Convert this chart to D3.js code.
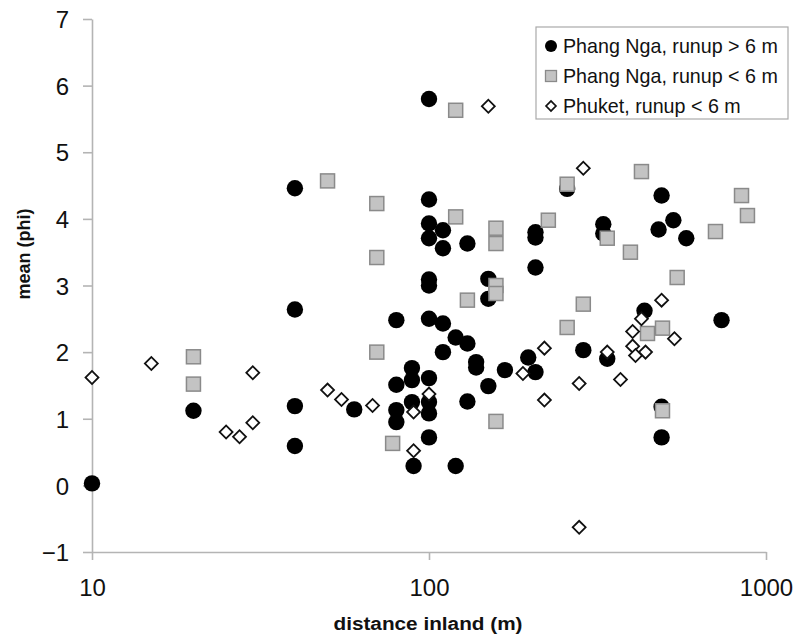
<!DOCTYPE html>
<html>
<head>
<meta charset="utf-8">
<script src="https://cdn.jsdelivr.net/npm/d3@7"></script>
<style>
  body { margin: 0; background: #fff; }
  svg { font-family: "Liberation Sans", Arial, sans-serif; }
</style>
</head>
<body>
<div id="chart"></div>
<script>
'use strict';

// Phang Nga, runup > 6 m  [distance inland (m), mean (phi)]
var phangNgaHigh = [
  [10, 0.03], [20, 1.12],
  [40, 4.46], [40, 2.64], [40, 1.19], [40, 0.59],
  [60, 1.14],
  [80, 2.48], [80, 1.51], [80, 1.13], [80, 0.95],
  [89, 1.76], [89, 1.58], [89, 1.25], [90, 0.29],
  [100, 5.8], [100, 4.29], [100, 3.93], [100, 3.71], [100, 3.09], [100, 3.0],
  [100, 2.5], [100, 1.61], [100, 1.25], [100, 1.08], [100, 0.72],
  [110, 3.83], [110, 3.56], [110, 2.43], [110, 2.0],
  [120, 2.22], [120, 0.29],
  [130, 3.63], [130, 2.13], [130, 1.26],
  [138, 1.85], [138, 1.77],
  [150, 3.1], [150, 2.8], [150, 1.49],
  [168, 1.73], [197, 1.92],
  [207, 3.8], [207, 3.72], [207, 3.27], [207, 1.7],
  [257, 4.45], [287, 2.03],
  [329, 3.92], [329, 3.78], [338, 1.9],
  [436, 2.62], [480, 3.84],
  [490, 4.35], [490, 1.18], [490, 0.72],
  [531, 3.98], [580, 3.71], [738, 2.48]
];

// Phang Nga, runup < 6 m
var phangNgaLow = [
  [20, 1.93], [20, 1.52],
  [50, 4.57],
  [70, 4.23], [70, 3.42], [70, 2.0],
  [78, 0.63],
  [120, 5.63], [120, 4.03],
  [130, 2.78],
  [158, 3.86], [158, 3.63], [158, 3.0], [158, 2.88], [158, 0.96],
  [226, 3.98], [257, 4.52], [257, 2.37], [287, 2.72],
  [338, 3.71], [396, 3.5], [427, 4.71], [445, 2.28],
  [493, 2.36], [493, 1.12], [545, 3.12],
  [708, 3.81], [846, 4.35], [881, 4.05]
];

// Phuket, runup < 6 m
var phuketLow = [
  [10, 1.62], [15, 1.83], [25, 0.8], [27.4, 0.73],
  [30, 1.69], [30, 0.94],
  [50, 1.43], [55, 1.29], [68, 1.2],
  [90, 1.1], [90, 0.52], [100, 1.37],
  [150, 5.69], [190, 1.68],
  [220, 2.06], [220, 1.28],
  [279, 1.53], [279, -0.63], [287, 4.76],
  [338, 2.0], [370, 1.59],
  [402, 2.31], [402, 2.09], [410, 1.95], [427, 2.5], [439, 2.0],
  [490, 2.78], [535, 2.2]
];

var xTicks = [10, 100, 1000];
var yTicks = [-1, 0, 1, 2, 3, 4, 5, 6, 7];
var legendLabels = ["Phang Nga, runup > 6 m", "Phang Nga, runup < 6 m", "Phuket, runup < 6 m"];

var width = 794, height = 636;
var axisColor = "#b4b4b4";

var svg = d3.select("#chart").append("svg")
  .attr("width", width).attr("height", height);

var x = d3.scaleLog().domain([10, 1000]).range([92, 766]);
var y = d3.scaleLinear().domain([-1, 7]).range([552, 19]);

//axes
var xAxis = svg.append("g")
  .attr("transform", "translate(0," + y(-1) + ")")
  .call(d3.axisBottom(x).tickValues(xTicks).tickFormat(d3.format("d")).tickSizeInner(8).tickSizeOuter(0).tickPadding(13));

var yAxis = svg.append("g")
  .attr("transform", "translate(" + x(10) + ",0)")
  .call(d3.axisLeft(y).tickValues(yTicks).tickSizeInner(9).tickSizeOuter(0).tickPadding(14));

[xAxis, yAxis].forEach(function(a){
  a.select(".domain").attr("stroke", axisColor).attr("stroke-width", 1.6);
  a.selectAll(".tick line").attr("stroke", axisColor).attr("stroke-width", 1.6);
  a.selectAll(".tick text").attr("fill", "#111").style("font-size", "24px").style("font-family", "Liberation Sans, Arial, sans-serif");
});
xAxis.selectAll(".tick text").attr("dy", "0.95em");
yAxis.selectAll(".tick text").attr("dy", "0.36em");

//axis titles
svg.append("text")
  .attr("x", 428).attr("y", 630)
  .attr("text-anchor", "middle")
  .style("font-size", "18px").style("font-weight", "bold").attr("fill", "#111")
  .attr("textLength", 189).attr("lengthAdjust", "spacingAndGlyphs")
  .text("distance inland (m)");

svg.append("text")
  .attr("transform", "translate(30,254) rotate(-90)")
  .attr("text-anchor", "middle")
  .style("font-size", "18px").style("font-weight", "bold").attr("fill", "#111")
  .text("mean (phi)");

//markers
var diamond = d3.symbol().type(d3.symbolSquare).size(84);

svg.append("g").selectAll("circle").data(phangNgaHigh).enter().append("circle")
  .attr("cx", function(d){ return x(d[0]); })
  .attr("cy", function(d){ return y(d[1]); })
  .attr("r", 8.2)
  .attr("fill", "#000");

svg.append("g").selectAll("rect").data(phangNgaLow).enter().append("rect")
  .attr("x", function(d){ return x(d[0]) - 7; })
  .attr("y", function(d){ return y(d[1]) - 7; })
  .attr("width", 14).attr("height", 14)
  .attr("fill", "#c3c3c3").attr("stroke", "#8a8a8a").attr("stroke-width", 1.5);

svg.append("g").selectAll("path").data(phuketLow).enter().append("path")
  .attr("d", diamond)
  .attr("transform", function(d){ return "translate(" + x(d[0]) + "," + y(d[1]) + ") rotate(45)"; })
  .attr("fill", "#fff").attr("stroke", "#111").attr("stroke-width", 1.8);

//legend
var legend = svg.append("g").attr("transform", "translate(536,27)");
legend.append("rect")
  .attr("width", 252).attr("height", 92)
  .attr("fill", "#fff").attr("stroke", "#aaa").attr("stroke-width", 1.2);

var rows = legend.selectAll("g.row").data(legendLabels).enter().append("g")
  .attr("class", "row")
  .attr("transform", function(d, i){ return "translate(15," + (19 + i * 30) + ")"; });

rows.each(function(d, i){
  var g = d3.select(this);
  if(i === 0){
    g.append("circle").attr("r", 6).attr("fill", "#000");
  } else if(i === 1){
    g.append("rect").attr("x", -5.5).attr("y", -5.5).attr("width", 11).attr("height", 11)
      .attr("fill", "#c3c3c3").attr("stroke", "#8a8a8a").attr("stroke-width", 1.3);
  } else {
    g.append("path").attr("d", d3.symbol().type(d3.symbolSquare).size(50))
      .attr("transform", "rotate(45)")
      .attr("fill", "#fff").attr("stroke", "#111").attr("stroke-width", 1.6);
  }
  g.append("text").attr("x", 12).attr("dy", "0.36em")
    .style("font-size", "20px").attr("fill", "#111")
    .text(d);
});

// stretch legend text so the first row spans the same width as the original
var firstWidth = rows.select("text").node().getComputedTextLength();
var sx = 215 / firstWidth;
rows.selectAll("text").attr("transform", "translate(12,0) scale(" + sx + ",1)").attr("x", 0);
</script>
</body>
</html>
